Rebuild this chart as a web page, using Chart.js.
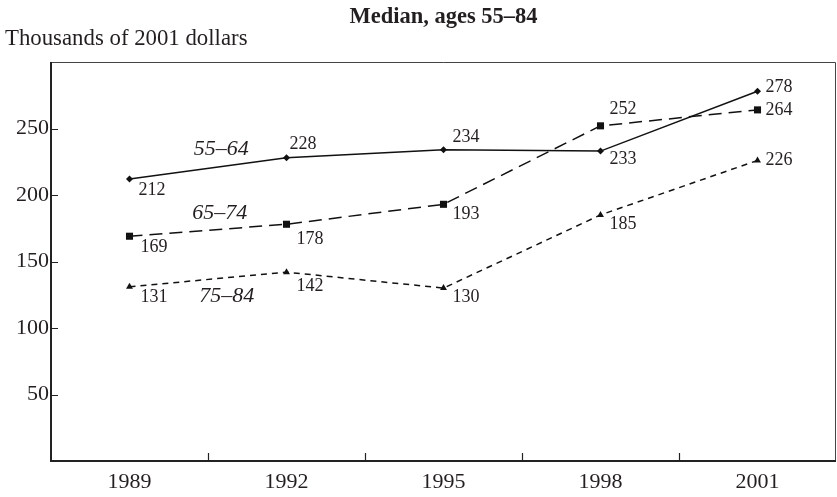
<!DOCTYPE html>
<html>
<head>
<meta charset="utf-8">
<script src="https://cdn.jsdelivr.net/npm/chart.js@4/dist/chart.umd.min.js"></script>
<style>
    body { margin: 0; background: #fff; }
</style>
</head>
<body>
<canvas id="chartMediana" width="837" height="497"></canvas>
<script>
const anios = ["1989", "1992", "1995", "1998", "2001"];
const edades55a64 = [212, 228, 234, 233, 278];
const edades65a74 = [169, 178, 193, 252, 264];
const edades75a84 = [131, 142, 130, 185, 226];
const ticksY = [50, 100, 150, 200, 250];

const titulo = "Median, ages 55–84";
const tituloEje = "Thousands of 2001 dollars";
const nombresSeries = ["55–64", "65–74", "75–84"];

const fuente = "'Liberation Serif', 'Times New Roman', serif";
const tinta = "#231f20";

// donde va cada numero respecto a su punto: [dx, dy de la linea base]
const posEtiquetas = [
    [[9, 16], [3, -9], [9, -8], [9, 13], [8, 1]],
    [[11, 16], [10, 20], [9, 15], [9, -12], [8, 5]],
    [[11, 15], [10, 19], [9, 14], [9, 14], [8, 5]]
];
// nombres de serie: indice de categoria (fraccion) y valor del eje y
const posNombres = [[0.41, 230], [0.40, 182], [0.445, 119.5]];

const dibujoExtra = {
    id: "dibujoExtra",
    afterDraw(chart) {
        const ctx = chart.ctx;
        const area = chart.chartArea;
        const x = chart.scales.x;
        const y = chart.scales.y;

        ctx.save();

        // marco
        ctx.strokeStyle = "#444";
        ctx.lineWidth = 1;
        ctx.beginPath();
        ctx.moveTo(area.left, area.top + 0.5);
        ctx.lineTo(area.right - 0.5, area.top + 0.5);
        ctx.lineTo(area.right - 0.5, area.bottom);
        ctx.stroke();

        ctx.strokeStyle = "#222";
        ctx.lineWidth = 2;
        ctx.beginPath();
        ctx.moveTo(area.left, area.top);
        ctx.lineTo(area.left, area.bottom);
        ctx.lineTo(area.right, area.bottom);
        ctx.stroke();

        // marcas hacia adentro
        ctx.lineWidth = 1.2;
        ctx.beginPath();
        ticksY.forEach(v => {
            const py = Math.round(y.getPixelForValue(v)) + 0.5;
            ctx.moveTo(area.left, py);
            ctx.lineTo(area.left + 7, py);
        });
        for (let i = 0; i < anios.length - 1; i++) {
            const px = Math.round((x.getPixelForValue(i) + x.getPixelForValue(i + 1)) / 2) + 0.5;
            ctx.moveTo(px, area.bottom);
            ctx.lineTo(px, area.bottom - 8);
        }
        ctx.stroke();

        // titulos
        ctx.fillStyle = tinta;
        ctx.textBaseline = "alphabetic";
        ctx.font = "bold 22.5px " + fuente;
        ctx.textAlign = "center";
        ctx.fillText(titulo, (area.left + area.right) / 2, 23);
        ctx.font = "22.8px " + fuente;
        ctx.textAlign = "left";
        ctx.fillText(tituloEje, 5, 45);

        // valores
        ctx.font = "18px " + fuente;
        chart.data.datasets.forEach((ds, i) => {
            const meta = chart.getDatasetMeta(i);
            meta.data.forEach((pt, j) => {
                const [dx, dy] = posEtiquetas[i][j];
                ctx.fillText(String(ds.data[j]), pt.x + dx, pt.y + dy);
            });
        });

        // nombres de series
        ctx.font = "italic 22px " + fuente;
        nombresSeries.forEach((n, i) => {
            const [idx, val] = posNombres[i];
            ctx.fillText(n, x.getPixelForValue(idx), y.getPixelForValue(val));
        });

        ctx.restore();
    }
};

const ctx = document.getElementById("chartMediana").getContext("2d");

new Chart(ctx, {
    type: "line",
    data: {
        labels: anios,
        datasets: [
            {
                label: nombresSeries[0],
                data: edades55a64,
                borderColor: "#111",
                borderWidth: 1.5,
                pointStyle: "rectRot",
                pointRadius: 3.5,
                pointBackgroundColor: "#111",
                pointBorderColor: "#111",
                pointBorderWidth: 0
            },
            {
                label: nombresSeries[1],
                data: edades65a74,
                borderColor: "#111",
                borderWidth: 1.5,
                borderDash: [13, 7],
                pointStyle: "rect",
                pointRadius: 5,
                pointBackgroundColor: "#111",
                pointBorderColor: "#111",
                pointBorderWidth: 0
            },
            {
                label: nombresSeries[2],
                data: edades75a84,
                borderColor: "#111",
                borderWidth: 1.5,
                borderDash: [6, 5],
                pointStyle: "triangle",
                pointRadius: 4,
                pointBackgroundColor: "#111",
                pointBorderColor: "#111",
                pointBorderWidth: 0
            }
        ]
    },
    options: {
        responsive: false,
        animation: false,
        layout: {
            autoPadding: false,
            padding: { top: 62, right: 1, left: 0, bottom: 0 }
        },
        plugins: {
            legend: { display: false },
            tooltip: { enabled: false },
            title: { display: false }
        },
        elements: { line: { tension: 0 } },
        scales: {
            x: {
                type: "category",
                offset: true,
                grid: { display: false, drawTicks: false },
                border: { display: false },
                ticks: {
                    color: tinta,
                    padding: 8,
                    font: { family: fuente, size: 22 }
                },
                afterFit: s => {
                    s.height = 36;
                    s.paddingLeft = 0;
                    s.paddingRight = 0;
                }
            },
            y: {
                min: 0,
                max: 300,
                grid: { display: false, drawTicks: false },
                border: { display: false },
                ticks: {
                    stepSize: 50,
                    color: tinta,
                    padding: 2,
                    font: { family: fuente, size: 22 },
                    callback: v => ticksY.includes(v) ? String(v) : ""
                },
                afterFit: s => { s.width = 51; }
            }
        }
    },
    plugins: [dibujoExtra]
});
</script>
</body>
</html>
